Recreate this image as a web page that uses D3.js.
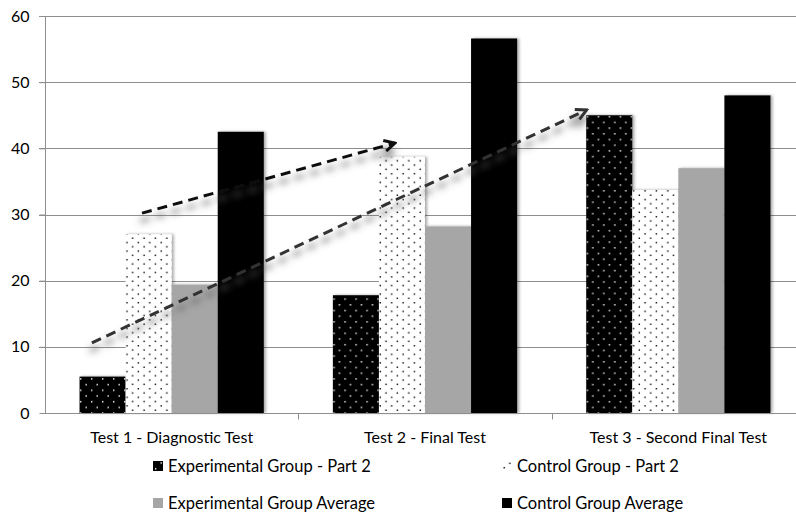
<!DOCTYPE html>
<html>
<head>
<meta charset="utf-8">
<script src="https://cdn.jsdelivr.net/npm/d3@7/dist/d3.min.js"></script>
<style>
  html, body { margin: 0; padding: 0; background: #fff; }
  svg { display: block; }
  text { font-family: Lato, "Liberation Sans", Arial, sans-serif; fill: #000; }
</style>
</head>
<body>
<svg id="chart" width="796" height="512"></svg>
<script>
// ---- data ----
const categories = ["Test 1 - Diagnostic Test", "Test 2 - Final Test", "Test 3 - Second Final Test"];
const seriesNames = ["Experimental Group - Part 2", "Control Group - Part 2", "Experimental Group Average", "Control Group Average"];
const expPart2 = [5.5, 17.8, 45.0];
const ctrlPart2 = [27.0, 38.7, 33.7];
const expAvg = [19.4, 28.2, 37.0];
const ctrlAvg = [42.5, 56.6, 48.0];
const yTicks = [0, 10, 20, 30, 40, 50, 60];
// arrows: [category position (0..3 continuous), value]
const arrowStarts = [[0.383, 30.2], [0.185, 10.6]];
const arrowEnds = [[1.381, 40.8], [2.138, 45.8]];

const seriesValues = [expPart2, ctrlPart2, expAvg, ctrlAvg];
const fills = ["url(#blackDots)", "url(#whiteDots)", "#a6a6a6", "#000000"];
const FONT = "Lato, 'Liberation Sans', Arial, sans-serif";

const svg = d3.select("#chart");
const margin = {left: 45, top: 16, bottom: 413, right: 805};

const defs = svg.append("defs");
// black with white dots
const p1 = defs.append("pattern").attr("id", "blackDots").attr("patternUnits", "userSpaceOnUse")
  .attr("width", 11).attr("height", 11.4);
p1.append("rect").attr("width", 11).attr("height", 11.4).attr("fill", "#000");
p1.append("rect").attr("x", 2).attr("y", 2).attr("width", 1.4).attr("height", 1.4).attr("fill", "#fff");
p1.append("rect").attr("x", 7.5).attr("y", 7.7).attr("width", 1.4).attr("height", 1.4).attr("fill", "#fff");
// white with black dots
const p2 = defs.append("pattern").attr("id", "whiteDots").attr("patternUnits", "userSpaceOnUse")
  .attr("width", 11.4).attr("height", 8.6);
p2.append("rect").attr("width", 11.4).attr("height", 8.6).attr("fill", "#fff");
p2.append("rect").attr("x", 1.5).attr("y", 1).attr("width", 1.4).attr("height", 1.4).attr("fill", "#000");
p2.append("rect").attr("x", 7.2).attr("y", 5.3).attr("width", 1.4).attr("height", 1.4).attr("fill", "#000");

const barShadow = defs.append("filter").attr("id", "barShadow").attr("x", "-20%").attr("y", "-10%").attr("width", "140%").attr("height", "120%");
barShadow.append("feDropShadow").attr("dx", 2).attr("dy", 0).attr("stdDeviation", 1.5)
  .attr("flood-color", "#000").attr("flood-opacity", 0.35);

const arrowShadow = defs.append("filter").attr("id", "arrowShadow").attr("x", "-20%").attr("y", "-50%").attr("width", "140%").attr("height", "200%");
arrowShadow.append("feDropShadow").attr("dx", -2).attr("dy", 8).attr("stdDeviation", 3.5)
  .attr("flood-color", "#555").attr("flood-opacity", 0.9);

function addHead(id, color) {
  defs.append("marker").attr("id", id).attr("viewBox", "0 0 14 14")
    .attr("refX", 12).attr("refY", 7).attr("markerWidth", 14).attr("markerHeight", 14)
    .attr("markerUnits", "userSpaceOnUse").attr("orient", "auto")
    .append("path").attr("d", "M1.5,1.5 L12,7 L1.5,12.5").attr("fill", "none")
    .attr("stroke", color).attr("stroke-width", 3).attr("stroke-linejoin", "miter");
}
addHead("head", "#111");
addHead("head2", "#333");

// ---- scales ----
const x0 = d3.scaleBand().domain(categories).range([margin.left, margin.right]).paddingInner(0).paddingOuter(0);
const x1 = d3.scaleBand().domain(d3.range(4)).range([0, x0.bandwidth()]).paddingInner(0).paddingOuter(0.75);
const xc = d3.scaleLinear().domain([0, 3]).range([margin.left, margin.right]);
const y = d3.scaleLinear().domain([0, 60]).range([margin.bottom, margin.top]);

// gridlines
svg.append("g").selectAll("line").data(yTicks.filter(d => d > 0)).join("line")
  .attr("x1", margin.left - 6).attr("x2", 796)
  .attr("y1", d => Math.round(y(d)) + 0.5).attr("y2", d => Math.round(y(d)) + 0.5)
  .attr("stroke", "#8e8e8e").attr("stroke-width", 1);

// y axis
const yAxis = d3.axisLeft(y).tickValues(yTicks).tickSize(6).tickPadding(10);
const gy = svg.append("g").attr("transform", `translate(${margin.left + 0.5},0)`).call(yAxis);
gy.select(".domain").attr("stroke", "#8e8e8e").attr("d", `M-0,${margin.bottom}V${margin.top}`);
gy.selectAll(".tick line").attr("stroke", "#8e8e8e");
gy.selectAll(".tick text").style("font-size", "16px").style("font-family", FONT).attr("fill", "#000");

// bars
const groups = svg.append("g").selectAll("g").data(categories).join("g")
  .attr("transform", d => `translate(${x0(d)},0)`);
groups.selectAll("rect").data((d, i) => seriesValues.map((s, k) => ({k, v: s[i]}))).join("rect")
  .attr("x", d => x1(d.k)).attr("width", x1.bandwidth())
  .attr("y", d => y(d.v)).attr("height", d => y(0) - y(d.v))
  .attr("fill", d => fills[d.k])
  .attr("filter", "url(#barShadow)");

// x axis
const xAxis = d3.axisBottom(x0).tickSize(0).tickPadding(18);
const gx = svg.append("g").attr("transform", `translate(0,${Math.round(y(0)) + 0.5})`).call(xAxis);
gx.select(".domain").attr("stroke", "#8e8e8e").attr("d", `M${margin.left},0H796`);
gx.selectAll(".tick text").style("font-size", "16px").style("font-family", FONT).attr("fill", "#000");
gx.append("g").selectAll("line").data([1, 2]).join("line")
  .attr("x1", d => Math.round(xc(d)) + 0.5).attr("x2", d => Math.round(xc(d)) + 0.5)
  .attr("y1", 0).attr("y2", 6).attr("stroke", "#8e8e8e");

// arrows
const arrows = arrowStarts.map((s, i) => ({s, e: arrowEnds[i], i}));
svg.append("g").selectAll("line").data(arrows).join("line")
  .attr("x1", d => xc(d.s[0])).attr("y1", d => y(d.s[1]))
  .attr("x2", d => xc(d.e[0])).attr("y2", d => y(d.e[1]))
  .attr("stroke", d => d.i === 0 ? "#111" : "#333")
  .attr("stroke-width", 3)
  .attr("stroke-dasharray", "10,6")
  .attr("marker-end", d => d.i === 0 ? "url(#head)" : "url(#head2)")
  .attr("filter", "url(#arrowShadow)");

// legend
const legendPos = [[153, 466], [502, 466], [153, 503], [502, 503]];
const lg = svg.append("g").selectAll("g").data(seriesNames).join("g")
  .attr("transform", (d, i) => `translate(${legendPos[i][0]},${legendPos[i][1]})`);
lg.append("rect").attr("x", 0).attr("y", -5).attr("width", 10).attr("height", 10)
  .attr("fill", (d, i) => fills[i]);
lg.append("text").attr("x", 15).attr("y", 0).attr("dy", "0.35em")
  .style("font-size", "16.5px")
  .style("font-family", FONT)
  .text(d => d);
</script>
</body>
</html>
